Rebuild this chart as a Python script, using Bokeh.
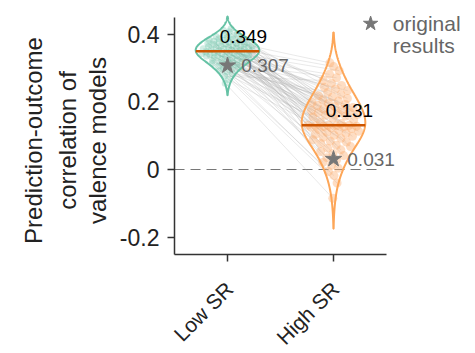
import numpy as np
from bokeh.plotting import figure
from bokeh.models import Range1d, FixedTicker
from bokeh.core.properties import value
from bokeh.embed import file_html
from bokeh.resources import INLINE

# ---------------- data ----------------
groups = ["Low SR", "High SR"]
group_pos = [1, 2]
low_sr = [
    0.255, 0.266, 0.276, 0.283, 0.288, 0.292, 0.296, 0.299,
    0.301, 0.304, 0.306, 0.309, 0.311, 0.313, 0.315, 0.317, 0.319,
    0.321, 0.322, 0.324, 0.326, 0.327, 0.329,
    0.331, 0.332, 0.333, 0.335, 0.336, 0.337, 0.338, 0.339,
    0.340, 0.341, 0.342, 0.343, 0.344, 0.345, 0.346, 0.347, 0.348,
    0.350, 0.351, 0.352, 0.353, 0.354, 0.355, 0.356, 0.357, 0.358,
    0.360, 0.361, 0.362, 0.363, 0.364, 0.365, 0.366, 0.367, 0.369,
    0.370, 0.371, 0.372, 0.374, 0.375, 0.376, 0.377, 0.379,
    0.380, 0.382, 0.383, 0.385, 0.386, 0.388,
    0.391, 0.393, 0.396, 0.398, 0.402, 0.407, 0.411, 0.416,
]
high_sr = [
    -0.085, -0.040, -0.018, -0.006, 0.004, 0.012, 0.021,
    0.028, 0.035, 0.041, 0.047, 0.053, 0.058, 0.063, 0.068, 0.072,
    0.077, 0.081, 0.084, 0.088, 0.092, 0.095, 0.098,
    0.101, 0.104, 0.107, 0.110, 0.113, 0.116, 0.118, 0.121, 0.123,
    0.125, 0.126, 0.127, 0.128, 0.129, 0.130, 0.130, 0.131, 0.131,
    0.136, 0.141, 0.146,
    0.152, 0.155, 0.158, 0.160, 0.163, 0.165, 0.168, 0.170, 0.172, 0.174,
    0.177, 0.180, 0.183, 0.186, 0.189, 0.192, 0.195, 0.198,
    0.202, 0.206, 0.210, 0.214, 0.218, 0.222,
    0.228, 0.233, 0.238, 0.243, 0.248,
    0.255, 0.263, 0.271, 0.281, 0.292, 0.304, 0.315,
]
medians = [0.349, 0.131]
original = [0.307, 0.031]
bandwidths = [0.018, 0.045]

y_ticks = [-0.2, 0, 0.2, 0.4]
y_tick_labels = ["-0.2", "0", "0.2", "0.4"]
y_label_lines = ["Prediction-outcome", "correlation of", "valence models"]
legend_lines = ["original", "results"]

# ---------------- style ----------------
FONT = "Liberation Sans"
edge_colors = ["#66c2a5", "#fda658"]
point_colors = ["#66c2a5", "#fdad6f"]
point_sizes = [7, 9]
point_alphas = [0.3, 0.42]
median_color = "#cc5500"
star_color = "#777777"
axis_color = "#333333"
half_width = 0.3
Y_LO, Y_HI = -0.251, 0.449
X_LO, X_HI = 0.5, 2.5

# the frame fills the whole canvas; axes are pinned at the data-area edges
p = figure(width=467, height=353, output_backend="svg", toolbar_location=None,
           x_range=Range1d(-1.1415, 3.264), y_range=Range1d(-0.5435, 0.4992),
           min_border_left=0, min_border_right=0, min_border_top=0,
           min_border_bottom=0)
p.outline_line_color = None
p.grid.visible = False
p.background_fill_color = "white"

# violin profiles (gaussian KDE, extended 2 bandwidths beyond data)
profiles = []
for vals, bw in zip([low_sr, high_sr], bandwidths):
    v = np.asarray(vals)
    grid = np.linspace(v.min() - 2 * bw, v.max() + 2 * bw, 300)
    dens = np.exp(-0.5 * ((grid[:, None] - v[None, :]) / bw) ** 2).sum(1)
    profiles.append((grid, dens / dens.max() * half_width))

# jittered x positions within each violin
n = len(low_sr)
pair_idx = [(i * 37) % n for i in range(n)]
xs_pts = []
for k, (vals, pos, (grid, hw)) in enumerate(zip([low_sr, high_sr], group_pos, profiles)):
    v = np.asarray(vals)
    u = ((np.arange(len(v)) * 0.6180339887 + 0.3 * k) % 1.0) * 2 - 1
    xs_pts.append(pos + 0.85 * u * np.interp(v, grid, hw))

# zero line
p.segment(x0=[X_LO], y0=[0], x1=[2.42], y1=[0], line_color="#777777",
          line_width=1.2, line_dash="10 6")

# paired lines
p.multi_line(xs=[[xs_pts[0][i], xs_pts[1][j]] for i, j in enumerate(pair_idx)],
             ys=[[low_sr[i], high_sr[j]] for i, j in enumerate(pair_idx)],
             line_color="#b0b0b0", line_alpha=0.35, line_width=0.8)

# points
for i, vals in enumerate([low_sr, high_sr]):
    p.scatter(xs_pts[i], vals, size=point_sizes[i], fill_color=point_colors[i],
              fill_alpha=point_alphas[i], line_color=None)

# violins
for i, (pos, (grid, hw)) in enumerate(zip(group_pos, profiles)):
    px = np.concatenate([pos + hw, (pos - hw)[::-1]])
    py = np.concatenate([grid, grid[::-1]])
    p.patch(px, py, fill_alpha=0, line_color=edge_colors[i], line_width=2)

# medians
p.segment(x0=[g - half_width for g in group_pos], y0=medians,
          x1=[g + half_width for g in group_pos], y1=medians,
          line_color=median_color, line_width=2.5)
p.text(x=[g + 0.15 for g in group_pos], y=medians,
       text=[f"{m:.3f}" for m in medians], text_font=value(FONT),
       text_font_size="19px", text_color="black", text_align="center",
       text_baseline="bottom", y_offset=-8)

# original results
p.scatter(group_pos, original, marker="star", size=17, fill_color=star_color,
          line_color=star_color)
p.text(x=[g + 0.13 for g in group_pos], y=original,
       text=[f"{o:.3f}" for o in original], text_font=value(FONT),
       text_font_size="19px", text_color="#666666", text_align="left",
       text_baseline="middle")

# legend
p.scatter([2.35], [0.431], marker="star", size=15, fill_color=star_color,
          line_color=star_color)
p.text(x=[2.56, 2.56], y=[0.431, 0.366], text=legend_lines,
       text_font=value(FONT), text_font_size="21px", text_color="#666666",
       text_align="left", text_baseline="middle")

# axes
for ax in (p.xaxis[0], p.yaxis[0]):
    ax.axis_line_color = axis_color
    ax.axis_line_width = 1.5
    ax.major_tick_line_color = axis_color
    ax.major_tick_line_width = 1.5
    ax.major_tick_out = 7
    ax.major_tick_in = 0
    ax.minor_tick_line_color = None
    ax.major_label_text_font = FONT
    ax.major_label_text_color = "#222222"

p.yaxis.fixed_location = X_LO
p.yaxis.major_label_text_font_size = "23px"
p.yaxis.bounds = (Y_LO, Y_HI)
p.yaxis.ticker = FixedTicker(ticks=y_ticks)
p.yaxis.major_label_overrides = dict(zip(y_ticks, y_tick_labels))
p.yaxis.major_label_standoff = 8

# y axis title (three centred lines, reading upwards)
p.text(x=[X_LO] * 3, y=[0] * 3, text=y_label_lines, text_font=value(FONT),
       text_font_size="24px", text_color="#222222", text_align="center",
       text_baseline="middle", angle=np.pi / 2,
       x_offset=[-141, -107, -77], y_offset=-29)

# x axis and rotated category labels
p.xaxis.fixed_location = Y_LO
p.xaxis.bounds = (X_LO, X_HI)
p.xaxis.ticker = FixedTicker(ticks=group_pos)
p.xaxis.major_label_overrides = {g: "" for g in group_pos}
p.text(x=group_pos, y=[Y_LO] * len(group_pos), text=groups,
       text_font=value(FONT), text_font_size="21px", text_color="#222222",
       text_align="right", text_baseline="middle", angle=np.pi / 4,
       x_offset=2, y_offset=31)

open("out.html", "w").write(file_html(p, INLINE))
